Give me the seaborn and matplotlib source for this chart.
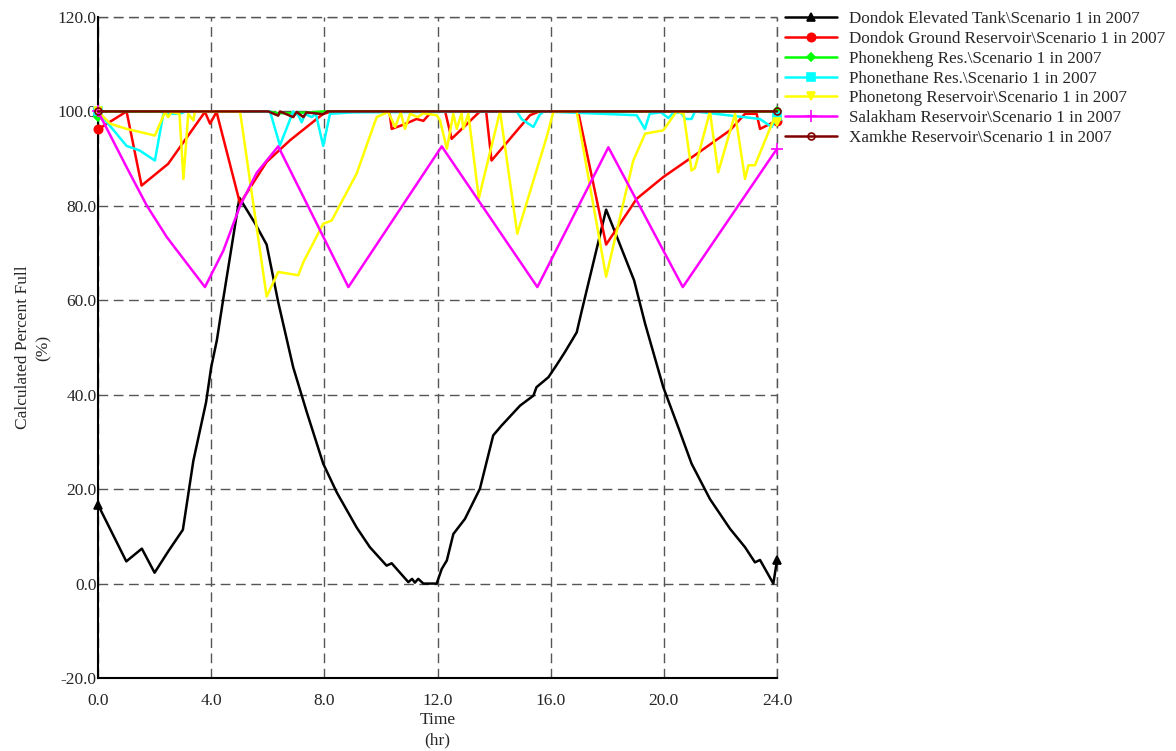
import numpy as np
import pandas as pd
import matplotlib
matplotlib.use("Agg")
import matplotlib.pyplot as plt
import seaborn as sns

# ---------------- data ----------------
names = [
    "Dondok Elevated Tank\\Scenario 1 in 2007",
    "Dondok Ground Reservoir\\Scenario 1 in 2007",
    "Phonekheng Res.\\Scenario 1 in 2007",
    "Phonethane Res.\\Scenario 1 in 2007",
    "Phonetong Reservoir\\Scenario 1 in 2007",
    "Salakham Reservoir\\Scenario 1 in 2007",
    "Xamkhe Reservoir\\Scenario 1 in 2007",
]

t_elev = [0, 1.0, 1.55, 2.0, 2.48, 3.0, 3.37, 3.82, 4.0, 4.2, 4.43, 5.0, 5.55, 5.96, 6.37, 6.9,
          7.38, 7.96, 8.44, 9.14, 9.61, 10.2, 10.38, 10.97, 11.1, 11.2, 11.32, 11.5, 11.97, 12.15,
          12.33, 12.56, 12.97, 13.5, 13.97, 14.27, 14.92, 15.39, 15.5, 15.92, 16.2, 16.5, 16.92,
          17.1, 17.96, 18.95, 19.34, 19.98, 20.51, 20.98, 21.63, 22.34, 22.87, 23.22, 23.4, 23.87, 24.0]
v_elev = [16.7, 4.7, 7.4, 2.3, 6.8, 11.4, 26.0, 38.4, 45.8, 51.5, 60.4, 81.7, 76.3, 71.8, 59.6, 45.8,
          36.3, 25.4, 19.3, 11.9, 7.7, 3.8, 4.3, 0.3, 1.0, 0.2, 1.0, 0.0, 0.0, 3.1,
          4.9, 10.5, 13.7, 20.1, 31.4, 33.5, 37.7, 39.8, 41.6, 43.7, 46.2, 49.0, 53.2,
          57.8, 79.2, 64.2, 55.0, 41.6, 33.1, 25.4, 17.9, 11.6, 7.7, 4.5, 5.0, 0.0, 4.9]

t_ground = [0, 1.01, 1.54, 2.48, 3.78, 3.96, 4.19, 5.02, 5.96, 6.79, 7.96, 8.3, 10.3, 10.38, 10.8,
            11.26, 11.5, 11.8, 12.27, 12.5, 13.5, 13.72, 13.91, 15.27, 15.6, 16.97, 17.96, 19.04,
            19.98, 21.16, 22.34, 22.87, 23.28, 23.4, 23.87, 24.0]
v_ground = [96.2, 100, 84.3, 88.9, 99.9, 97.4, 99.9, 80.5, 89.3, 93.9, 99.5, 100, 100, 96.3, 97.2,
            98.4, 98.0, 100, 100, 94.2, 100, 100, 89.6, 99.2, 100, 100, 71.8, 81.5,
            86.1, 91.0, 96.0, 99.5, 99.5, 96.3, 97.7, 98.0]

t_kheng = [0, 0.15, 6.0, 6.4, 7.0, 7.5, 8.0, 24.0]
v_kheng = [98.8, 100, 100, 99.6, 99.7, 99.8, 100, 100]

t_thane = [0, 1.01, 1.48, 2.01, 2.31, 2.9, 3.1, 6.08, 6.43, 6.9, 7.08, 7.2, 7.32, 7.55, 7.7, 7.96,
           8.2, 9.0, 14.8, 14.97, 15.39, 15.6, 15.75, 19.04, 19.33, 19.5, 19.9, 20.16, 20.35, 20.6,
           20.77, 20.98, 21.1, 23.4, 23.81, 24.0]
v_thane = [100, 92.7, 91.7, 89.6, 99.5, 99.5, 100, 100, 92.8, 100, 99.2, 97.7, 99.5, 98.8, 99.5, 92.7,
           99.5, 99.8, 100, 98.4, 96.7, 99.2, 100, 99.2, 96.3, 99.5, 99.8, 98.6, 99.8, 99.7,
           98.4, 98.4, 100, 98.4, 96.7, 99.0]

t_tong = [0, 0.43, 1.01, 2.01, 2.37, 2.48, 2.6, 2.88, 3.02, 3.19, 3.37, 3.43, 5.02, 5.96, 6.37, 7.08,
          7.26, 7.96, 8.26, 9.14, 9.85, 10.26, 10.5, 10.7, 10.85, 11.03, 11.3, 11.5, 11.97, 12.09,
          12.33, 12.56, 12.68, 12.85, 12.91, 13.09, 13.46, 14.21, 14.82, 15.5, 15.86, 16.1, 16.92,
          17.96, 18.92, 19.34, 19.98, 20.45, 20.7, 20.98, 21.1, 21.63, 21.92, 22.52, 22.87, 22.99,
          23.22, 23.87, 24.0]
v_tong = [100, 97.4, 96.3, 94.9, 99.9, 98.8, 99.9, 99.5, 85.7, 99.5, 98.1, 100, 100, 60.8, 66.0, 65.3,
          68.1, 76.2, 76.9, 86.8, 98.8, 99.9, 96.7, 99.8, 96.3, 99.5, 98.8, 99.6, 99.2, 98.1,
          92.1, 99.5, 96.3, 99.6, 96.3, 99.5, 81.6, 100, 74.1, 87.5, 94.6, 100, 100,
          65.0, 89.6, 95.3, 96.0, 100, 99.5, 87.5, 88.0, 100, 87.1, 99.5, 85.7, 88.6,
          88.6, 98.1, 97.7]

t_sala = [0, 1.01, 1.72, 2.43, 3.78, 4.43, 5.02, 5.61, 6.37, 8.85, 12.15, 15.53, 18.04, 20.67, 24.0]
v_sala = [100, 88.2, 80.1, 73.4, 62.8, 70.5, 80.0, 87.0, 92.6, 62.8, 92.6, 62.8, 92.4, 62.8, 92.1]

t_xam = [0, 6.02, 6.37, 6.43, 6.9, 7.02, 7.26, 7.37, 7.96, 8.1, 24.0]
v_xam = [100, 100, 99.1, 100, 98.8, 99.9, 98.8, 99.8, 99.4, 100, 100]

x_ticks = [0, 4, 8, 12, 16, 20, 24]
y_ticks = [-20, 0, 20, 40, 60, 80, 100, 120]

series = [
    (t_elev, v_elev), (t_ground, v_ground), (t_kheng, v_kheng), (t_thane, v_thane),
    (t_tong, v_tong), (t_sala, v_sala), (t_xam, v_xam),
]
colors = ["#000000", "#FF0000", "#00FF00", "#00FFFF", "#FFFF00", "#FF00FF", "#800000"]
markers = ["^", "o", "D", "s", "v", "+", "o"]
msizes = [6, 6, 4.5, 6, 6, 8, 5]

# ---------------- style ----------------
sns.set_style("white")
plt.rcParams["font.family"] = ["Liberation Serif", "DejaVu Serif"]
plt.rcParams["font.size"] = 12

fig = plt.figure(figsize=(11.76, 7.51), dpi=100)
ax = fig.add_axes([98 / 1176, 1 - 678 / 751, (777 - 98) / 1176, (678 - 17) / 751])

for i, ((tt, vv), name) in enumerate(zip(series, names)):
    df = pd.DataFrame({"Time": tt, "Value": vv})
    kw = dict(marker=markers[i], markersize=msizes[i], markevery=[0, len(tt) - 1],
              markeredgecolor=colors[i], markeredgewidth=1.2)
    if i == 6:
        kw["markerfacecolor"] = "none"
    else:
        kw["markerfacecolor"] = colors[i]
    sns.lineplot(data=df, x="Time", y="Value", ax=ax, color=colors[i], linewidth=1.8,
                 estimator=None, sort=False, label=name, zorder=3 + i, clip_on=False, **kw)

ax.set_xlim(0, 24)
ax.set_ylim(-20, 120)
ax.set_xticks(x_ticks)
ax.set_yticks(y_ticks)
ax.set_xticklabels([f"{v:.1f}" for v in x_ticks])
ax.set_yticklabels([f"{v:.1f}" for v in y_ticks])
ax.tick_params(axis="both", length=0, labelsize=12.5)
ax.tick_params(axis="y", pad=1)
ax.tick_params(axis="x", pad=11)

grid_kw = dict(linestyle=(0, (7, 4)), color="#555555", linewidth=1.0)
ax.grid(True, zorder=0, **grid_kw)
ax.set_axisbelow(True)
ax.axvline(x_ticks[-1], clip_on=False, zorder=1, **grid_kw)
ax.axhline(y_ticks[-1], clip_on=False, zorder=1, **grid_kw)
for s in ["top", "right"]:
    ax.spines[s].set_visible(False)
for s in ["left", "bottom"]:
    ax.spines[s].set_color("black")
    ax.spines[s].set_linewidth(1.5)

ax.set_xlabel("Time\n(hr)", fontsize=12.5, linespacing=1.35, labelpad=2)
ax.set_ylabel("Calculated Percent Full\n(%)", fontsize=12.5, linespacing=1.4, labelpad=4)

handles, labels = ax.get_legend_handles_labels()
if ax.legend_ is not None:
    ax.legend_.remove()
fig.legend(handles, labels, loc="upper left", bbox_to_anchor=(782 / 1176, 1 - 8 / 751),
           frameon=False, fontsize=12.3, handlelength=3.0, handletextpad=0.75,
           labelspacing=0.22, borderaxespad=0, borderpad=0.2)

fig.savefig("out.png", dpi=100)
